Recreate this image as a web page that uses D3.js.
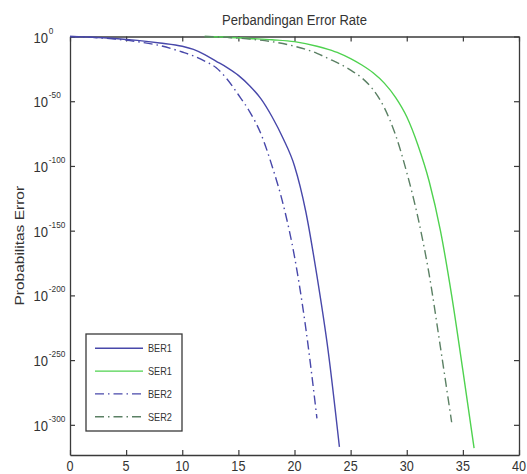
<!DOCTYPE html>
<html>
<head>
<meta charset="utf-8">
<script src="https://cdn.jsdelivr.net/npm/d3@7"></script>
<style>
  html, body { margin: 0; padding: 0; background: #fff; }
  svg { display: block; font-family: "Liberation Sans", Arial, sans-serif; }
</style>
</head>
<body>
<svg id="chart" width="527" height="474"></svg>
<script>
// values (SNR in dB, error probability)
const snrBER = [0, 2, 4, 6, 8, 10, 11, 12, 13, 14, 15, 16, 17, 18, 19, 20, 21, 22, 23, 24];
const ber1 = [1, 3e-1, 3e-2, 1e-3, 1e-5, 3e-8, 1e-10, 1e-14, 1e-19, 1e-24, 1e-30, 1e-38, 1e-48, 1e-62, 1e-79, 1e-100, 1e-135, 1e-185, 1e-243, 1e-317];
const ber2 = [1, 2e-1, 1e-2, 1e-4, 1e-7, 1e-12, 1e-15, 1e-19, 1e-24, 1e-33, 1e-45, 1e-58, 1e-75, 1e-100, 1e-130, 1e-170, 1e-225, 1e-295, 0, 0];

const snrSER = [12, 14, 16, 18, 20, 22, 23, 24, 25, 26, 27, 28, 29, 30, 31, 32, 33, 34, 35, 36];
const ser1 = [1, 3e-1, 3e-2, 3e-3, 1e-4, 3e-8, 1e-10, 1e-13, 1e-17, 1e-22, 1e-28, 1e-36, 1e-47, 1e-62, 1e-84, 1e-112, 1e-150, 1e-200, 1e-258, 1e-318];
const ser2 = [1, 2e-1, 1e-2, 1e-4, 3e-8, 1e-13, 1e-17, 1e-21, 1e-26, 1e-32, 1e-41, 1e-55, 1e-76, 1e-105, 1e-140, 1e-184, 1e-240, 1e-298, 0, 0];

const xTicks = [0, 5, 10, 15, 20, 25, 30, 35, 40];
const yTickExp = [0, -50, -100, -150, -200, -250, -300];

const TITLE = "Perbandingan Error Rate";
const YLABEL = "Probabilitas Error";

const series = [
  {name: "BER1", snr: snrBER, p: ber1, color: "#4848aa", dash: null},
  {name: "SER1", snr: snrSER, p: ser1, color: "#4fd24f", dash: null},
  {name: "BER2", snr: snrBER, p: ber2, color: "#4848aa", dash: "9,4,1.5,4"},
  {name: "SER2", snr: snrSER, p: ser2, color: "#5b8064", dash: "9,4,1.5,4"}
];

const W = 527, H = 474, M = {t: 36.5, r: 8, b: 19, l: 70};
const innerW = W - M.l - M.r, innerH = H - M.t - M.b;
const SQ = 0.87; // the picture is squeezed a bit horizontally

const svg = d3.select("#chart");
const g = svg.append("g").attr("transform", `translate(${M.l},${M.t})`);

const x = d3.scaleLinear().domain([0, 40]).range([0, innerW]);
const y = d3.scaleLog().domain([Number.MIN_VALUE, 1]).range([innerH, 0]);
const yTicks = yTickExp.map(e => Math.pow(10, e));

// box with inward ticks on all four sides
const axes = [
  {gen: d3.axisBottom(x).tickValues(xTicks), tr: `translate(0,${innerH})`},
  {gen: d3.axisTop(x).tickValues(xTicks), tr: "translate(0,0)"},
  {gen: d3.axisLeft(y).tickValues(yTicks), tr: "translate(0,0)"},
  {gen: d3.axisRight(y).tickValues(yTicks), tr: `translate(${innerW},0)`}
];
axes.forEach(a => {
  const ax = g.append("g").attr("transform", a.tr)
    .call(a.gen.tickSize(-5).tickSizeOuter(0).tickFormat(""));
  ax.select(".domain").attr("stroke", "#3a3a3a").attr("stroke-width", 1.3);
  ax.selectAll(".tick line").attr("stroke", "#3a3a3a").attr("stroke-width", 1.2);
});

// x tick labels
g.selectAll("text.xl")
  .data(xTicks)
  .join("text")
    .attr("class", "xl")
    .attr("transform", d => `translate(${x(d)},${innerH + 15.5}) scale(${SQ},1)`)
    .attr("text-anchor", "middle")
    .attr("font-size", 14.5)
    .attr("fill", "#333")
    .text(d => d);

// y tick labels: 10 with a raised exponent
const yl = g.selectAll("g.yl")
  .data(yTickExp)
  .join("g")
    .attr("class", "yl")
    .attr("transform", d => `translate(-22,${y(Math.pow(10, d))}) scale(${SQ},1)`);
yl.append("text")
  .attr("text-anchor", "end").attr("y", 6)
  .attr("font-size", 15).attr("fill", "#333")
  .text("10");
yl.append("text")
  .attr("x", 1).attr("y", -3)
  .attr("font-size", 9.5).attr("fill", "#333")
  .text(d => d === 0 ? "0" : d3.format("d")(d).replace("−", "-"));

// curves
svg.append("clipPath").attr("id", "clip")
  .append("rect").attr("x", -2).attr("y", -2)
  .attr("width", innerW + 4).attr("height", innerH + 4);

const line = d3.line()
  .defined(d => d.p > 0)
  .curve(d3.curveMonotoneX)
  .x(d => x(d.snr))
  .y(d => y(d.p));

g.append("g").attr("clip-path", "url(#clip)")
  .selectAll("path.curve")
  .data(series)
  .join("path")
    .attr("class", "curve")
    .attr("fill", "none")
    .attr("stroke", d => d.color)
    .attr("stroke-width", 1.4)
    .attr("stroke-dasharray", d => d.dash)
    .attr("d", d => line(d.snr.map((s, i) => ({snr: s, p: d.p[i]}))));

// title and y label
svg.append("text")
  .attr("transform", `translate(${M.l + innerW / 2},25) scale(${SQ},1)`)
  .attr("text-anchor", "middle")
  .attr("font-size", 15).attr("fill", "#333")
  .text(TITLE);

svg.append("text")
  .attr("transform", `translate(23.5,${M.t + innerH / 2}) scale(${SQ},1) rotate(-90)`)
  .attr("text-anchor", "middle")
  .attr("font-size", 15.5).attr("fill", "#333")
  .text(YLABEL);

// legend
const lg = svg.append("g").attr("transform", "translate(86,334)");
lg.append("rect")
  .attr("width", 96).attr("height", 97)
  .attr("fill", "#fff").attr("stroke", "#3a3a3a").attr("stroke-width", 1.3);

const rows = lg.selectAll("g.row")
  .data(series)
  .join("g")
    .attr("class", "row")
    .attr("transform", (d, i) => `translate(0,${14.3 + i * 22.8})`);
rows.append("line")
  .attr("x1", 9).attr("x2", 57)
  .attr("stroke", d => d.color)
  .attr("stroke-width", 1.4)
  .attr("stroke-dasharray", d => d.dash);
rows.append("text")
  .attr("transform", `translate(62,4) scale(${SQ},1)`)
  .attr("font-size", 10.5).attr("fill", "#333")
  .text(d => d.name);
</script>
</body>
</html>
